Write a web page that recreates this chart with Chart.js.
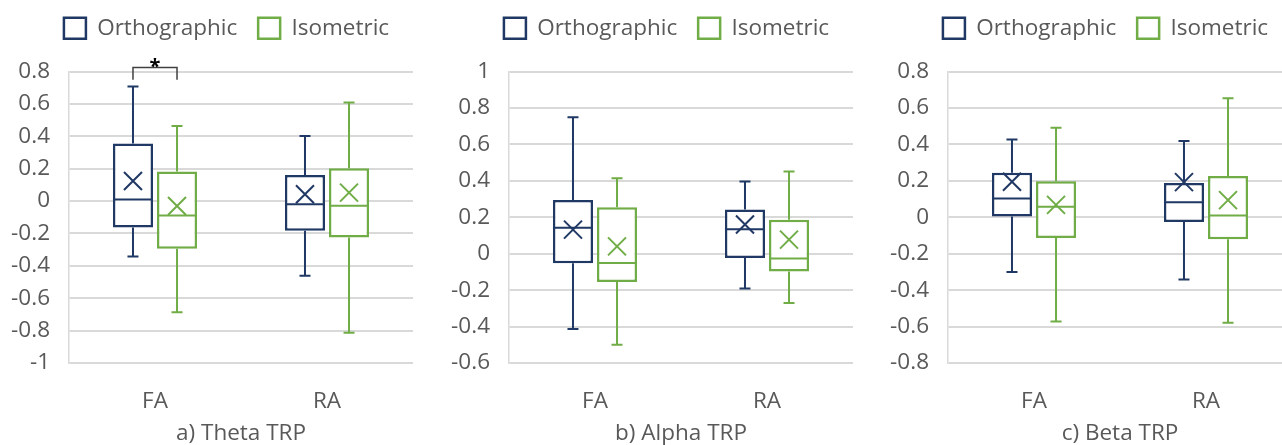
<!DOCTYPE html>
<html>
<head>
<meta charset="utf-8">
<script src="https://cdn.jsdelivr.net/npm/chart.js@4.4.1/dist/chart.umd.min.js"></script>
<style>
  body { margin: 0; width: 1282px; height: 445px; overflow: hidden; background: #fff; position: relative; }
  .panel { position: absolute; top: -4px; width: 452px; height: 449px; }
</style>
</head>
<body>
<div class="panel" style="left:0px"><canvas id="theta"></canvas></div>
<div class="panel" style="left:440px"><canvas id="alpha"></canvas></div>
<div class="panel" style="left:879px"><canvas id="beta"></canvas></div>
<script>
// box plot summaries per category: [min, q1, median, q3, max, mean]
var categories = ["FA", "RA"];
var seriesNames = ["Orthographic", "Isometric"];

var thetaOrtho = [[-0.343, -0.163, 0.009, 0.356, 0.708, 0.124], [-0.461, -0.184, -0.020, 0.161, 0.402, 0.042]];
var thetaIso   = [[-0.687, -0.294, -0.089, 0.182, 0.464, -0.031], [-0.813, -0.225, -0.029, 0.203, 0.608, 0.052]];

var alphaOrtho = [[-0.414, -0.053, 0.143, 0.294, 0.749, 0.132], [-0.191, -0.024, 0.134, 0.243, 0.396, 0.160]];
var alphaIso   = [[-0.500, -0.156, -0.051, 0.255, 0.414, 0.040], [-0.270, -0.098, -0.026, 0.186, 0.451, 0.077]];

var betaOrtho = [[-0.300, 0.004, 0.103, 0.244, 0.427, 0.195], [-0.342, -0.026, 0.083, 0.188, 0.419, 0.193]];
var betaIso   = [[-0.572, -0.114, 0.057, 0.197, 0.491, 0.068], [-0.579, -0.121, 0.009, 0.226, 0.653, 0.094]];

// y axis ranges [min, max]
var thetaRange = [-1, 0.8];
var alphaRange = [-0.6, 1];
var betaRange = [-0.8, 0.8];

var NAVY = "#203864", GREEN = "#70AD47", TXT = "#595959", GRID = "#D9D9D9";
var FONT = "'Open Sans', 'Noto Sans', sans-serif";
var FS = 22.5;

// draws medians, whiskers, caps, mean markers and the significance bracket
var boxExtras = {
  id: "boxExtras",
  afterInit: function (chart) {
    var lg = chart.legend;
    if (lg) {
      var fit = lg.fit.bind(lg);
      lg.fit = function () { fit(); this.height += 22; };
    }
  },
  afterLayout: function (chart) {
    // legend sits a bit right of the canvas centre, like the original
    if (chart.legend) chart.legend.left += 40;
  },
  afterDatasetsDraw: function (chart, args, opts) {
    var ctx = chart.ctx, ys = chart.scales.y;
    ctx.save();
    chart.data.datasets.forEach(function (ds, di) {
      var meta = chart.getDatasetMeta(di);
      meta.data.forEach(function (bar, i) {
        var s = ds.stats[i];
        var x = bar.x, hw = bar.width / 2;
        ctx.strokeStyle = ds.borderColor;
        ctx.lineWidth = 2;
        ctx.beginPath();
        // median
        ctx.moveTo(x - hw, ys.getPixelForValue(s[2]));
        ctx.lineTo(x + hw, ys.getPixelForValue(s[2]));
        // whiskers
        ctx.moveTo(x, ys.getPixelForValue(s[3]));
        ctx.lineTo(x, ys.getPixelForValue(s[4]));
        ctx.moveTo(x, ys.getPixelForValue(s[1]));
        ctx.lineTo(x, ys.getPixelForValue(s[0]));
        // caps
        ctx.moveTo(x - 5.5, ys.getPixelForValue(s[4]));
        ctx.lineTo(x + 5.5, ys.getPixelForValue(s[4]));
        ctx.moveTo(x - 5.5, ys.getPixelForValue(s[0]));
        ctx.lineTo(x + 5.5, ys.getPixelForValue(s[0]));
        ctx.stroke();
        // mean marker
        var my = ys.getPixelForValue(s[5]);
        ctx.beginPath();
        ctx.moveTo(x - 9, my - 9); ctx.lineTo(x + 9, my + 9);
        ctx.moveTo(x + 9, my - 9); ctx.lineTo(x - 9, my + 9);
        ctx.stroke();
      });
    });
    if (opts && opts.bracket) {
      var b = opts.bracket;
      var x0 = chart.getDatasetMeta(0).data[b.cat].x;
      var x1 = chart.getDatasetMeta(1).data[b.cat].x;
      var yt = ys.getPixelForValue(b.top), yl = ys.getPixelForValue(b.leg);
      ctx.strokeStyle = "#404040";
      ctx.lineWidth = 1.5;
      ctx.beginPath();
      ctx.moveTo(x0, yl); ctx.lineTo(x0, yt); ctx.lineTo(x1, yt); ctx.lineTo(x1, yl);
      ctx.stroke();
      ctx.fillStyle = "#000";
      ctx.font = "bold 20px " + FONT;
      ctx.textAlign = "center";
      ctx.textBaseline = "alphabetic";
      ctx.fillText("*", (x0 + x1) / 2, yt + 5);
    }
    ctx.restore();
  }
};

function makePanel(id, title, range, ortho, iso, bracket) {
  var series = [ortho, iso];
  var colors = [NAVY, GREEN];
  return new Chart(document.getElementById(id), {
    type: "bar",
    data: {
      labels: categories,
      datasets: series.map(function (st, k) {
        return {
          label: seriesNames[k],
          data: st.map(function (s) { return [s[1], s[3]]; }),
          stats: st,
          borderColor: colors[k],
          backgroundColor: "#ffffff",
          borderWidth: 2.5,
          borderSkipped: false,
          categoryPercentage: 0.512,
          barPercentage: 0.91
        };
      })
    },
    options: {
      responsive: true,
      maintainAspectRatio: false,
      animation: false,
      layout: { padding: { left: 0, right: 39, top: 0, bottom: 0 } },
      plugins: {
        tooltip: { enabled: false },
        legend: {
          position: "top",
          labels: {
            boxWidth: 22, boxHeight: 21, padding: 21,
            color: TXT, font: { family: FONT, size: FS }
          }
        },
        boxExtras: { bracket: bracket }
      },
      scales: {
        x: {
          grid: { display: false },
          border: { display: false },
          ticks: { color: TXT, font: { family: FONT, size: FS }, padding: 17 },
          title: { display: true, text: title, color: TXT, font: { family: FONT, size: FS }, padding: { top: 0, bottom: -2 } },
          afterFit: function (s) { s.height = 82; }
        },
        y: {
          min: range[0], max: range[1],
          grid: { color: GRID, lineWidth: 2, drawTicks: false },
          border: { display: true, color: GRID, width: 1.5 },
          ticks: {
            stepSize: 0.2, color: TXT, padding: 19,
            font: { family: FONT, size: FS },
            callback: function (v) { return String(Math.round(v * 10) / 10); }
          },
          afterFit: function (s) { s.width = 69; }
        }
      }
    },
    plugins: [boxExtras]
  });
}

makePanel("theta", "a) Theta TRP", thetaRange, thetaOrtho, thetaIso, { cat: 0, top: 0.824, leg: 0.749 });
makePanel("alpha", "b) Alpha TRP", alphaRange, alphaOrtho, alphaIso, null);
makePanel("beta", "c) Beta TRP", betaRange, betaOrtho, betaIso, null);
</script>
</body>
</html>
